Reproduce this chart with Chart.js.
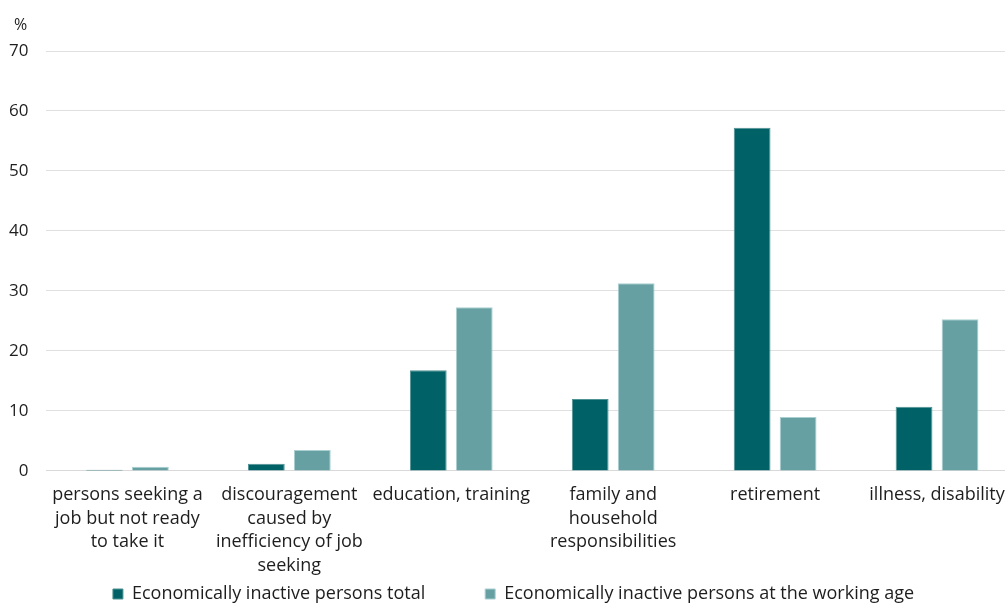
<!DOCTYPE html>
<html>
<head>
<meta charset="utf-8">
<script src="https://cdn.jsdelivr.net/npm/chart.js@4.4.0/dist/chart.umd.min.js"></script>
<style>
    html, body { margin: 0; padding: 0; background: #fff; overflow: hidden; }
    #wrap { width: 1018px; height: 603px; }
</style>
</head>
<body>
<div id="wrap"><canvas id="myChart"></canvas></div>
<script>
const categories = [
    ["persons seeking a", "job but not ready", "to take it"],
    ["discouragement", "caused by", "inefficiency of job", "seeking"],
    ["education, training"],
    ["family and", "household", "responsibilities"],
    ["retirement"],
    ["illness, disability"],
];
const inactiveTotal = [0.2, 1.2, 16.8, 12.0, 57.2, 10.7];
const inactiveWorkingAge = [0.7, 3.5, 27.3, 31.3, 9.0, 25.3];
const seriesNames = ["Economically inactive persons total", "Economically inactive persons at the working age"];

const fontFamily = "'Open Sans', 'Noto Sans', sans-serif";

// draws the "%" unit above the y axis, nudges the legend a bit right
const extras = {
    id: "extras",
    afterLayout(chart) {
        chart.legend.left += 9;
        chart.legend.right += 9;
    },
    afterDraw(chart) {
        const y = chart.scales.y;
        const c = chart.ctx;
        c.save();
        c.font = "16px " + fontFamily;
        c.fillStyle = "#1e1e1e";
        c.textAlign = "left";
        c.textBaseline = "middle";
        c.fillText("%", 14, y.top - 26);
        c.restore();
    },
};

const ctx = document.getElementById("myChart");

new Chart(ctx, {
    type: "bar",
    data: {
        labels: categories,
        datasets: [
            {
                // trailing spaces widen the gap between the two legend items
                label: seriesNames[0] + "\u2003\u2003\u2002\u2002\u2009",
                data: inactiveTotal,
                backgroundColor: "#006266",
                borderColor: "#4f9294",
                borderWidth: 1,
            },
            {
                label: seriesNames[1],
                data: inactiveWorkingAge,
                backgroundColor: "#66a0a3",
                borderColor: "#a9cfd1",
                borderWidth: 1,
            },
        ],
    },
    options: {
        responsive: true,
        maintainAspectRatio: false,
        animation: false,
        layout: {
            padding: { top: 51, left: -9, right: 0, bottom: -10 },
        },
        datasets: {
            bar: {
                categoryPercentage: 0.568,
                barPercentage: 0.8,
            },
        },
        scales: {
            x: {
                grid: { display: false },
                border: { color: "#d9d9d9" },
                ticks: {
                    color: "#1e1e1e",
                    maxRotation: 0,
                    autoSkip: false,
                    padding: 4,
                    font: { family: fontFamily, size: 18, lineHeight: 1.32 },
                },
            },
            y: {
                min: 0,
                max: 70,
                ticks: {
                    stepSize: 10,
                    color: "#1e1e1e",
                    padding: 18,
                    font: { family: fontFamily, size: 17 },
                },
                grid: { color: "#e0e0e0", drawTicks: false },
                border: { display: false },
            },
        },
        plugins: {
            legend: {
                position: "bottom",
                labels: {
                    boxWidth: 10,
                    boxHeight: 10,
                    padding: 3,
                    color: "#1e1e1e",
                    font: { family: fontFamily, size: 18 },
                },
            },
            tooltip: { enabled: false },
        },
    },
    plugins: [extras],
});
</script>
</body>
</html>
